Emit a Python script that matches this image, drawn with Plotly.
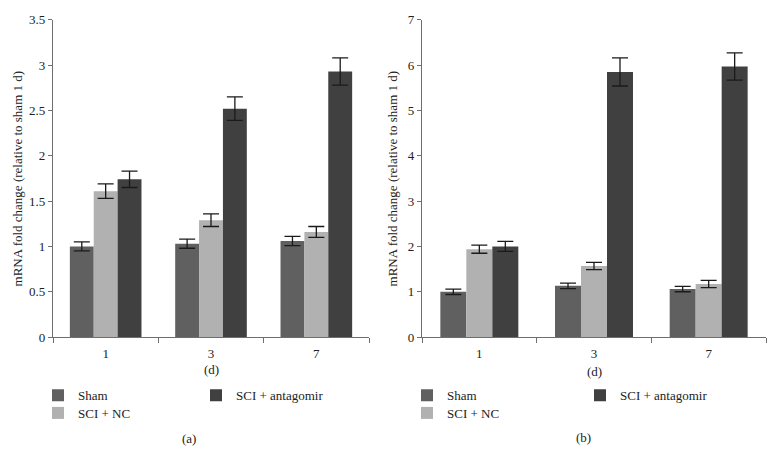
import plotly.graph_objects as go

days = ["1", "3", "7"]
series_names = ["Sham", "SCI + NC", "SCI + antagomir"]
colors = ["#606060", "#b1b1b1", "#404040"]

# panel (a)
a_sham = [1.00, 1.03, 1.06]
a_nc = [1.61, 1.29, 1.16]
a_anta = [1.74, 2.52, 2.93]
a_sham_err = [0.05, 0.05, 0.05]
a_nc_err = [0.08, 0.07, 0.06]
a_anta_err = [0.09, 0.13, 0.15]

# panel (b)
b_sham = [1.00, 1.13, 1.06]
b_nc = [1.94, 1.57, 1.17]
b_anta = [2.00, 5.85, 5.97]
b_sham_err = [0.06, 0.06, 0.06]
b_nc_err = [0.09, 0.08, 0.08]
b_anta_err = [0.11, 0.31, 0.30]

W, H = 775, 463
K = 0.982  # vertical scale observed between page and photograph
FONT = "Liberation Serif, Times New Roman, serif"


def fx(v):
    return v / W


def fy(v):
    return 1 - (v / K) / H


fig = go.Figure()

panels = [
    ("x", "y", [a_sham, a_nc, a_anta], [a_sham_err, a_nc_err, a_anta_err], ["legend", "legend2", "legend3"]),
    ("x2", "y2", [b_sham, b_nc, b_anta], [b_sham_err, b_nc_err, b_anta_err], ["legend4", "legend5", "legend6"]),
]
for xa, ya, vals, errs, legs in panels:
    for name, v, e, c, lg in zip(series_names, vals, errs, colors, legs):
        fig.add_trace(go.Bar(
            x=days, y=v, name=name, xaxis=xa, yaxis=ya, legend=lg,
            marker=dict(color=c, line=dict(width=0)),
            error_y=dict(type="data", array=e, visible=True, color="#1a1a1a",
                         thickness=1.3, width=8),
        ))

ydom = [fy(335), fy(13)]
axis_common = dict(
    showgrid=False, zeroline=False, showline=True, linecolor="#6e6e6e", linewidth=1.3,
    ticks="outside", tickcolor="#6e6e6e",
    tickfont=dict(family=FONT, size=13, color="#222"),
)
fig.update_layout(
    width=W, height=H, margin=dict(l=0, r=0, t=0, b=0),
    paper_bgcolor="white", plot_bgcolor="white",
    barmode="group", bargap=0.32, bargroupgap=0,
    font=dict(family=FONT, size=13, color="#222"),
    xaxis=dict(domain=[fx(53), fx(369)], anchor="y", tickson="boundaries",
               ticklen=5, ticklabelstandoff=4, **axis_common),
    yaxis=dict(domain=ydom, anchor="x", range=[0, 3.5], dtick=0.5, tickformat="~g",
               ticklen=4, **axis_common),
    xaxis2=dict(domain=[fx(422), fx(766)], anchor="y2", tickson="boundaries",
                ticklen=5, ticklabelstandoff=4, **axis_common),
    yaxis2=dict(domain=ydom, anchor="x2", range=[0, 7], dtick=1, ticklen=4, **axis_common),
    showlegend=True,
)

# legends (one per entry to place them like the original)
leg_pos = {
    "legend": (38, 394), "legend2": (38, 412), "legend3": (196, 394),
    "legend4": (407, 394), "legend5": (407, 412), "legend6": (580, 394),
}
for lg, (lx, ly) in leg_pos.items():
    fig.update_layout({lg: dict(
        x=fx(lx), y=fy(ly), xanchor="left", yanchor="middle",
        bgcolor="rgba(0,0,0,0)", borderwidth=0,
        font=dict(family=FONT, size=13, color="#222"),
    )})

ytitle = "mRNA fold change (relative to sham 1 d)"
ann = [
    dict(x=fx(17), y=fy(174), text=ytitle, textangle=-90),
    dict(x=fx(392), y=fy(174), text=ytitle, textangle=-90),
    dict(x=fx(211), y=fy(368), text="(d)"),
    dict(x=fx(594), y=fy(370), text="(d)"),
    dict(x=fx(189), y=fy(438), text="(a)"),
    dict(x=fx(583), y=fy(437), text="(b)"),
]
for a in ann:
    fig.add_annotation(xref="paper", yref="paper", showarrow=False,
                       xanchor="center", yanchor="middle",
                       font=dict(family=FONT, size=13, color="#222"), **a)

fig.write_html(
    "out.html",
    config={"displayModeBar": False},
    post_script="document.body.style.margin='0';",
)
